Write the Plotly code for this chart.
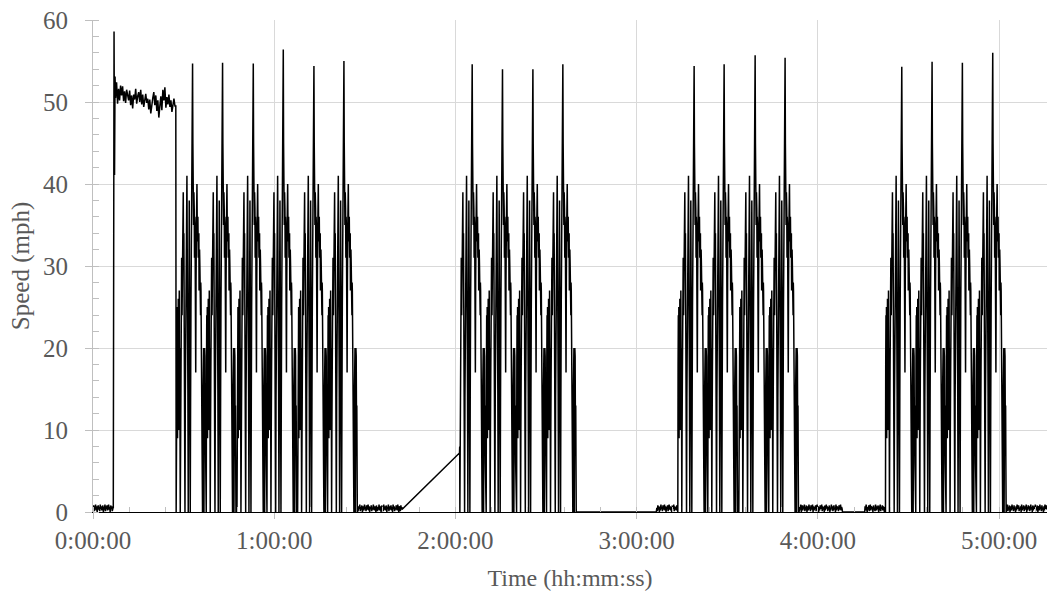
import numpy as np
import plotly.graph_objects as go

# ---------------- data (seconds, mph) ----------------
# idle noise while stationary (tenths of mph)
IDLE_1 = [3, 8, 1, 6, 4, 9, 2, 7, 0, 5, 8, 3, 6, 1, 9, 4, 7, 2, 5, 8, 0, 6, 3, 9, 1, 7, 4, 8, 2, 5,
          9, 3, 6, 0, 8, 4, 7, 1, 5, 6]
IDLE_2 = [2, 7, 4, 9, 1, 6, 3, 8, 0, 5, 7, 2, 9, 4, 6, 1, 8, 3, 5, 9, 2, 7, 0, 6, 4, 8, 1, 5, 3, 9,
          6, 2, 7, 4, 0, 8, 5, 1, 6, 3, 9, 2, 7, 5, 0, 8, 4, 6, 1, 9, 3, 7, 2, 5, 8, 0, 6, 4, 9, 1,
          7, 3, 5, 8, 2, 6, 0, 9, 4, 7, 1, 5, 3, 8, 6, 2, 9, 4, 0, 7, 5, 1, 8, 3, 6]
IDLE_3 = [5, 1, 8, 3, 7, 0, 6, 2, 9, 4, 6, 1, 8, 5, 3, 9, 2, 7, 0, 6, 4, 8, 1, 5, 9, 3, 7, 2, 6, 0,
          8, 4, 5, 9, 1, 7, 3, 6, 2, 8, 4, 5]
IDLE_4 = [1, 6, 3, 9, 0, 5, 8, 2, 7, 4, 9, 1, 6, 3, 8, 0, 5, 7, 2, 9, 4, 6, 1, 8, 3, 5, 9, 0, 7, 2,
          6, 4, 8, 1, 5, 9, 3, 7, 0, 6, 2, 8, 4, 5, 9, 1, 7, 3, 6, 0, 8, 2, 5, 9, 4, 7, 1, 6, 3, 8,
          0, 5, 2, 9, 4, 7, 1, 6, 8, 3, 5, 0, 9, 2, 7, 4, 6, 1, 8, 3, 5, 9, 2, 6, 4]
IDLE_5 = [7, 2, 9, 4, 0, 6, 3, 8, 1, 5, 9, 2, 7, 4, 6, 0, 8, 3, 5, 1, 9, 6, 2, 7, 4, 8, 0, 5, 3, 9,
          1, 6, 4, 8, 2, 7, 5, 0, 6, 3]
IDLE_6 = [4, 9, 1, 6, 3, 8, 0, 5, 7, 2, 9, 4, 6, 1, 8, 3, 5, 0, 7, 2, 9, 6, 4, 8, 1, 5, 3, 7, 0, 9,
          2, 6, 4, 8, 1, 7, 5, 3, 9, 0, 6, 2, 8, 4, 7, 1, 5, 9, 3, 6, 0, 8, 2, 7, 4, 5, 9, 1, 6, 3,
          8, 0, 5, 7, 2, 9, 4, 6, 1, 8, 3, 5, 0, 7, 2, 9, 6, 4, 8, 3]
IDLE_SPANS = [(0, 403), (5269, 6137), (11201, 11618), (14031, 14881), (15338, 15743), (18156, 18952)]

# stationary stretches logged as exactly zero
ZERO_SPANS = [(9600, 11190), (14890, 15330)]

# steady highway run at the start
PLATEAU_LEAD_T = [403, 418, 428, 438]
PLATEAU_LEAD_V = [0.5, 58.6, 41.1, 53.1]
PLATEAU_T0, PLATEAU_STEP = 448, 20
PLATEAU_V = [50.5, 52.4, 49.8, 51.6, 50.2, 52.0, 50.8, 51.9, 50.1, 51.3,
             49.9, 51.5, 50.6, 50.2, 51.4, 49.6, 50.8, 49.2, 50.9, 50.3,
             51.6, 49.8, 50.7, 51.2, 50.0, 51.5, 49.7, 50.9, 49.4, 50.6,
             51.0, 49.9, 50.4, 49.1, 50.3, 48.6, 49.8, 50.5, 51.2, 49.6,
             50.8, 48.9, 50.2, 48.1, 49.5, 50.7, 49.0, 51.5, 50.2, 51.8,
             49.3, 50.6, 49.7, 50.9, 49.4, 50.2, 48.8, 49.9, 50.4, 49.5]
PLATEAU_END_T = [1645, 1652]
PLATEAU_END_V = [49.5, 0.0]

# one urban sub-cycle (time from cycle start in s, speed in mph)
CYCLE_T = [0, 5, 10, 15, 20, 25, 30, 35, 40, 45, 50, 55, 60, 66, 72, 76, 79, 85, 91, 99,
           107, 115, 123, 131, 139, 145, 151, 160, 167, 173, 180, 187, 195, 203, 212, 218, 224, 231, 238, 243,
           248, 253, 258, 263, 268, 273, 278, 285, 292, 298, 305, 312, 318, 324, 330, 334, 338, 344, 350, 357,
           362, 367, 373, 380, 387, 393, 401, 406, 411, 417, 423, 430, 437, 443, 449, 453, 457, 463, 469, 476,
           483, 487, 491, 498, 506, 514, 522, 527, 532, 538, 544, 550, 556, 562, 568, 574, 580, 585, 590]
CYCLE_V = [0, 18, 24, 11, 25, 9, 22, 14, 26, 10, 24, 12, 27, 11, 20, 8, 0, 10, 17, 26,
           31, 24, 30, 35, 39, 30, 34, 20, 12, 0, 14, 24, 33, 37, 41, 32, 28, 15, 0, 18,
           26, 33, 38, 30, 20, 9, 0, 14, 25, 31, 38, 44, 50, 55, 45, 38, 40, 35, 39, 37,
           31, 36, 35, 26, 17, 28, 35, 38, 40, 35, 33, 36, 31, 33, 34, 27, 29, 32, 30, 26,
           24, 28, 27, 20, 10, 0, 0, 12, 16, 19, 20, 0, 15, 20, 19, 10, 13, 6, 0]
CYCLE_PEAK_T = 324

BLOCK_STARTS = [[1654, 2250, 2860, 3456, 4065, 4661],
                [7209, 7811, 8415, 9010],
                [11618, 12214, 12830, 13425],
                [15743, 16345, 16947, 17550]]
BLOCK_PEAKS = [[54.7, 54.8, 54.7, 56.4, 54.4, 55.0],
               [54.6, 54.0, 54.0, 54.6],
               [54.4, 54.6, 55.7, 55.4],
               [54.3, 54.9, 54.8, 56.0]]

# logging gap before the second block (straight joining line)
GAP_T = [6137, 7281]
GAP_V = [0.3, 7.2]

HOUR_TICKS = [0, 3600, 7200, 10800, 14400, 18000]
HOUR_LABELS = ["0:00:00", "1:00:00", "2:00:00", "3:00:00", "4:00:00", "5:00:00"]
X_MAX = 18952

# ---------------- assemble the trace ----------------
def idle(span, vals):
    ts = np.linspace(span[0], span[1], len(vals))
    return list(ts), [v / 10 for v in vals]

def block(starts, peaks, t_min=None):
    ts, vs = [], []
    for s, p in zip(starts, peaks):
        for dt, v in zip(CYCLE_T, CYCLE_V):
            tt = s + dt
            if t_min is not None and tt <= t_min:
                continue
            ts.append(tt)
            vs.append(p if dt == CYCLE_PEAK_T else v)
    return ts, vs

T, V = [], []
def add(ts, vs):
    T.extend(ts); V.extend(vs)

add(*idle(IDLE_SPANS[0], IDLE_1))
add(PLATEAU_LEAD_T, PLATEAU_LEAD_V)
add([PLATEAU_T0 + i * PLATEAU_STEP for i in range(len(PLATEAU_V))], PLATEAU_V)
add(PLATEAU_END_T, PLATEAU_END_V)
add(*block(BLOCK_STARTS[0], BLOCK_PEAKS[0]))
add(*idle(IDLE_SPANS[1], IDLE_2))
add(GAP_T, GAP_V)
add(*block(BLOCK_STARTS[1], BLOCK_PEAKS[1], t_min=GAP_T[1]))
add(list(ZERO_SPANS[0]), [0, 0])
add(*idle(IDLE_SPANS[2], IDLE_3))
add(*block(BLOCK_STARTS[2], BLOCK_PEAKS[2]))
add(*idle(IDLE_SPANS[3], IDLE_4))
add(list(ZERO_SPANS[1]), [0, 0])
add(*idle(IDLE_SPANS[4], IDLE_5))
add(*block(BLOCK_STARTS[3], BLOCK_PEAKS[3]))
add(*idle(IDLE_SPANS[5], IDLE_6))

FONT = "Liberation Serif"
GREY = "#595959"

fig = go.Figure(go.Scatter(x=T, y=V, mode="lines",
                           line=dict(color="black", width=1.5), hoverinfo="skip"))

fig.update_layout(
    width=1047, height=595,
    margin=dict(l=93, r=0, t=20, b=83),
    plot_bgcolor="white", paper_bgcolor="white",
    showlegend=False,
    font=dict(family=FONT, size=25, color=GREY),
)
fig.update_xaxes(
    range=[0, X_MAX], tickmode="array", tickvals=HOUR_TICKS, ticktext=HOUR_LABELS,
    showgrid=True, gridcolor="#d9d9d9", gridwidth=1,
    showline=True, linecolor="black", linewidth=1, zeroline=False,
    ticks="outside", ticklen=6, tickcolor="#bfbfbf",
    minor=dict(tickmode="linear", tick0=0, dtick=720, ticks="inside", ticklen=5,
               tickcolor="#bfbfbf", showgrid=False),
    tickfont=dict(family=FONT, size=25, color=GREY),
    title=dict(text="Time (hh:mm:ss)", font=dict(family=FONT, size=24, color=GREY), standoff=16),
)
fig.update_yaxes(
    range=[0, 60], tickmode="linear", tick0=0, dtick=10,
    showgrid=True, gridcolor="#d9d9d9", gridwidth=1,
    showline=True, linecolor="#bfbfbf", linewidth=1, zeroline=False,
    ticks="outside", ticklen=7, tickcolor="#bfbfbf", ticklabelstandoff=12,
    minor=dict(tickmode="linear", tick0=0, dtick=2, ticks="inside", ticklen=6,
               tickcolor="#bfbfbf", showgrid=False),
    tickfont=dict(family=FONT, size=25, color=GREY),
    title=dict(text="Speed (mph)", font=dict(family=FONT, size=25, color=GREY), standoff=6),
)

fig.write_html("out.html")
